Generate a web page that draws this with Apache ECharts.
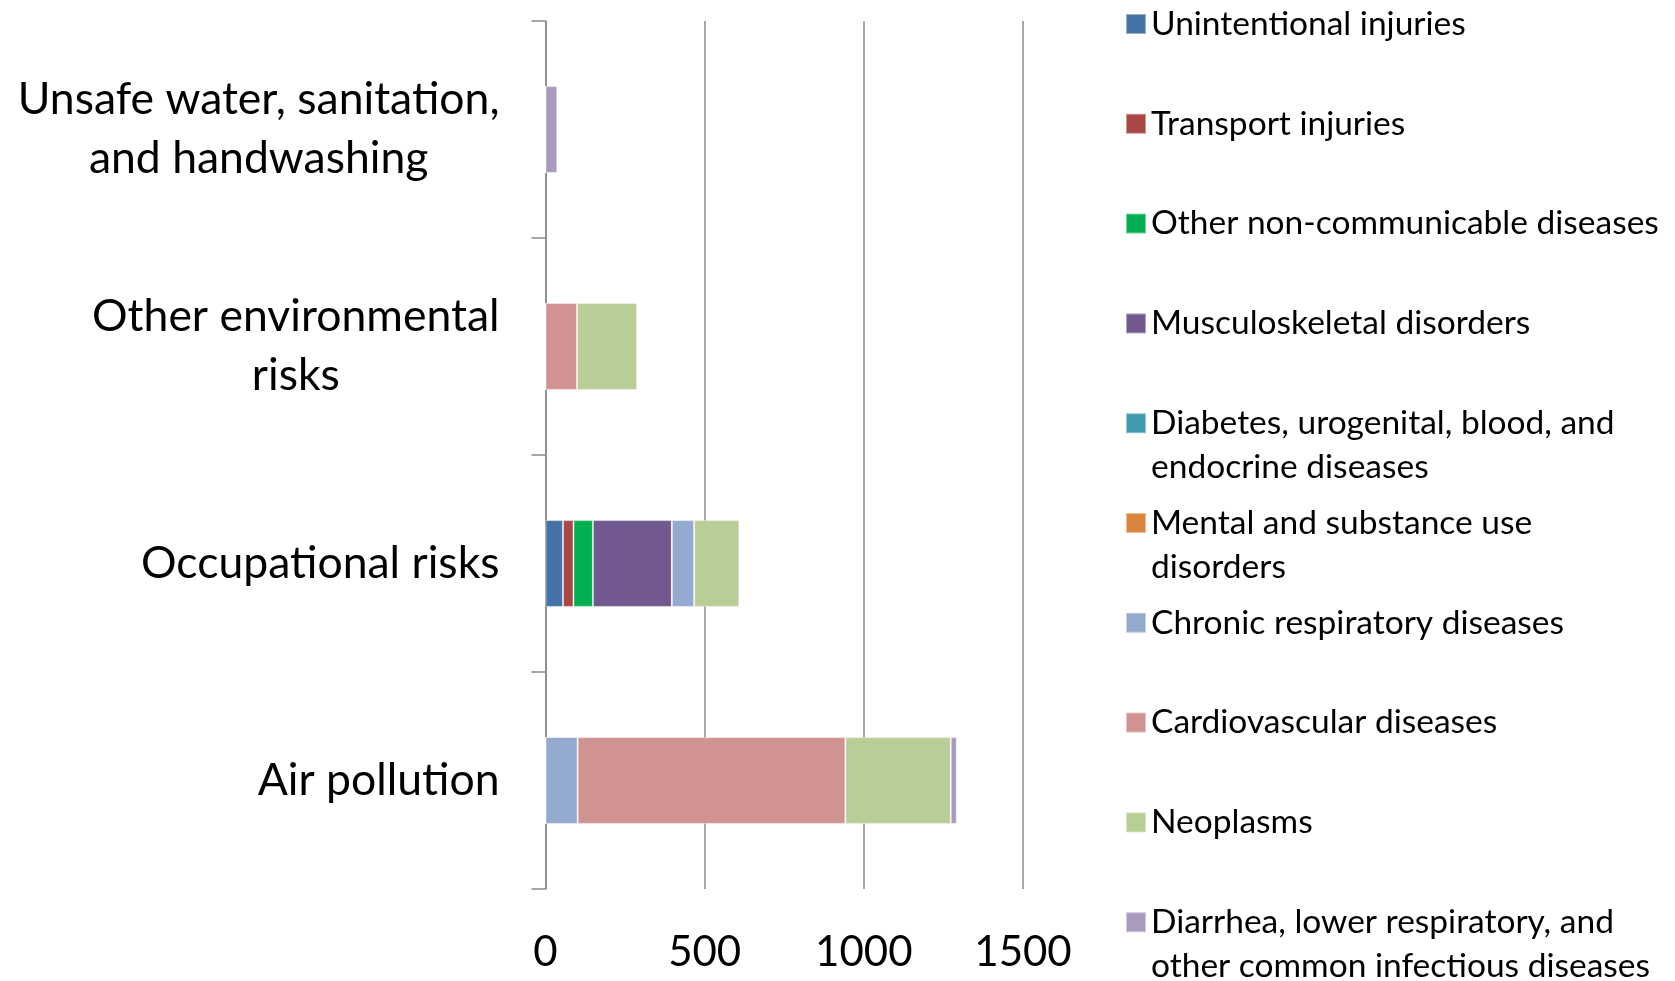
<!DOCTYPE html>
<html>
<head>
<meta charset="utf-8">
<script src="https://cdn.jsdelivr.net/npm/echarts@6/dist/echarts.min.js"></script>
<style>
  html, body { margin: 0; padding: 0; background: #fff; }
  #chart { width: 1675px; height: 981px; }
</style>
</head>
<body>
<div id="chart"></div>
<script>
// Risk factor categories (bottom to top on the vertical axis)
const categories = [
  'Air pollution',
  'Occupational risks',
  'Other environmental risks',
  'Unsafe water, sanitation, and handwashing'
];
const categoryLabels = [
  'Air pollution',
  'Occupational risks',
  'Other environmental\nrisks',
  'Unsafe water, sanitation,\nand handwashing'
];

// Cause groups, stacked left to right in this order
const seriesNames = [
  'Unintentional injuries',
  'Transport injuries',
  'Other non-communicable diseases',
  'Musculoskeletal disorders',
  'Diabetes, urogenital, blood, and endocrine diseases',
  'Mental and substance use disorders',
  'Chronic respiratory diseases',
  'Cardiovascular diseases',
  'Neoplasms',
  'Diarrhea, lower respiratory, and other common infectious diseases'
];
const legendLabels = [
  'Unintentional injuries',
  'Transport injuries',
  'Other non-communicable diseases',
  'Musculoskeletal disorders',
  'Diabetes, urogenital, blood, and\nendocrine diseases',
  'Mental and substance use\ndisorders',
  'Chronic respiratory diseases',
  'Cardiovascular diseases',
  'Neoplasms',
  'Diarrhea, lower respiratory, and\nother common infectious diseases'
];
const seriesColors = [
  '#4572A7', '#AA4643', '#00B050', '#71588F', '#4198AF',
  '#DB843D', '#93A9CF', '#D19392', '#B9CD96', '#A99BBD'
];

// Values per category: [Air pollution, Occupational, Other environmental, Unsafe water]
const unintentionalInjuries = [0, 55, 0, 0];
const transportInjuries     = [0, 33, 0, 0];
const otherNonCommunicable  = [0, 61, 0, 0];
const musculoskeletal       = [0, 248, 0, 0];
const diabetesEndocrine     = [0, 0, 0, 0];
const mentalSubstance       = [0, 0, 0, 0];
const chronicRespiratory    = [101, 70, 0, 0];
const cardiovascular        = [841, 0, 99, 0];
const neoplasms             = [331, 142, 189, 0];
const diarrheaInfectious    = [19, 0, 0, 37];

const seriesValues = [
  unintentionalInjuries, transportInjuries, otherNonCommunicable, musculoskeletal,
  diabetesEndocrine, mentalSubstance, chronicRespiratory, cardiovascular,
  neoplasms, diarrheaInfectious
];

const xTicks = { min: 0, max: 1500, interval: 500 };

const FONT = 'Lato, "Open Sans", sans-serif';
const GRID_GRAY = '#8a8a8a';

// Legend: one entry per slot, first text line aligned with the swatch
const legendFirstLineY = 24;
const legendStep = 99.8;
const legendLineHeight = 44;

const legends = seriesNames.map((name, i) => {
  const lines = legendLabels[i].split('\n');
  const multi = lines.length > 1;
  const centerY = legendFirstLineY + i * legendStep;
  const blockLines = multi ? lines.length * 2 - 1 : 1;
  return {
    data: [name],
    orient: 'vertical',
    left: 1125,
    top: centerY - (blockLines * legendLineHeight) / 2,
    padding: 0,
    itemWidth: 20,
    itemHeight: 20,
    icon: 'rect',
    selectedMode: false,
    formatter: () => multi ? (' \n'.repeat(lines.length - 1) + lines.join('\n')) : lines[0],
    textStyle: {
      fontFamily: FONT,
      fontSize: 33.5,
      lineHeight: legendLineHeight,
      color: '#000'
    }
  };
});

const chart = echarts.init(document.getElementById('chart'), null, { renderer: 'canvas' });

chart.setOption({
  backgroundColor: '#fff',
  animation: false,
  legend: legends,
  grid: { left: 545.5, right: 652, top: 21, bottom: 92, containLabel: false },
  xAxis: {
    type: 'value',
    min: xTicks.min,
    max: xTicks.max,
    interval: xTicks.interval,
    axisLine: { show: false },
    axisTick: { show: false },
    splitLine: { show: true, lineStyle: { color: GRID_GRAY, width: 1.5 } },
    axisLabel: {
      fontFamily: FONT, fontSize: 42, color: '#000', margin: 42,
      formatter: v => String(v)
    }
  },
  yAxis: {
    type: 'category',
    data: categories,
    axisLine: { show: true, lineStyle: { color: GRID_GRAY, width: 1.5 } },
    axisTick: { show: true, length: 14, lineStyle: { color: GRID_GRAY, width: 1.5 } },
    splitLine: { show: false },
    axisLabel: {
      margin: 46,
      formatter: (value, idx) => categoryLabels[idx].split('\n').map(l => '{c|' + l + '}').join('\n'),
      rich: {
        c: { align: 'center', fontFamily: FONT, fontSize: 44.5, lineHeight: 59, color: '#000' }
      }
    }
  },
  series: seriesNames.map((name, i) => ({
    name: name,
    type: 'bar',
    stack: 'total',
    barWidth: '40%',
    data: seriesValues[i],
    itemStyle: { color: seriesColors[i], borderColor: 'rgba(255,255,255,0.45)', borderWidth: 1 },
    emphasis: { disabled: true }
  }))
});
</script>
</body>
</html>
